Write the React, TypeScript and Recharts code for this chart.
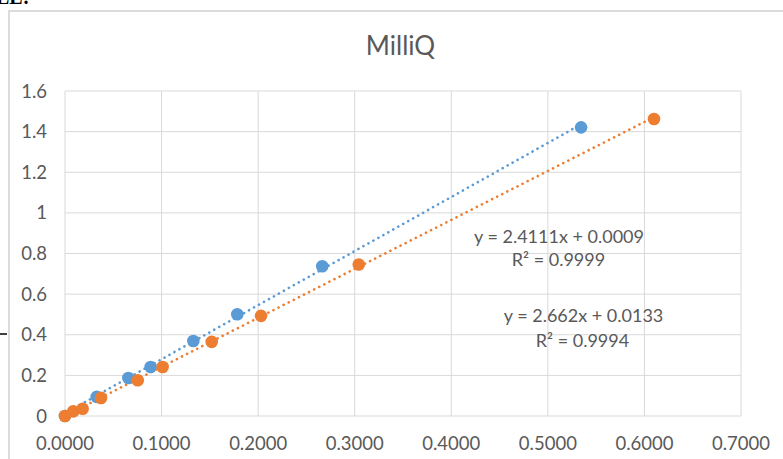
import React from "react";
import {
  ScatterChart,
  Scatter,
  XAxis,
  YAxis,
  CartesianGrid,
  ReferenceLine,
} from "recharts";

// MilliQ calibration points
const blueX = [0, 0.0328, 0.0656, 0.0887, 0.1329, 0.1784, 0.2664, 0.5344];
const blueY = [0, 0.094, 0.187, 0.241, 0.369, 0.501, 0.737, 1.421];
const orangeX = [0, 0.0086, 0.0183, 0.0373, 0.0753, 0.1011, 0.1519, 0.203, 0.3042, 0.6099];
const orangeY = [0, 0.023, 0.036, 0.089, 0.176, 0.241, 0.365, 0.493, 0.746, 1.462];

// trendline coefficients (as printed on the chart)
const blueFit = { slope: 2.662, intercept: 0.0133 };
const orangeFit = { slope: 2.4111, intercept: 0.0009 };

const xTicks = [0, 0.1, 0.2, 0.3, 0.4, 0.5, 0.6, 0.7];
const yTicks = [0, 0.2, 0.4, 0.6, 0.8, 1, 1.2, 1.4, 1.6];

const TITLE = "MilliQ";
const EQ_TOP = ["y = 2.4111x + 0.0009", "R² = 0.9999"];
const EQ_BOTTOM = ["y = 2.662x + 0.0133", "R² = 0.9994"];

const BLUE = "#5B9BD5";
const ORANGE = "#ED7D31";
const TEXT = "#595959";
const FONT = "Lato, 'Open Sans', sans-serif";
const TICK_SIZE = 18.5;

const toPoints = (xs: number[], ys: number[]) => xs.map((x, i) => ({ x, y: ys[i] }));

const blueData = toPoints(blueX, blueY);
const orangeData = toPoints(orangeX, orangeY);

const fitSegment = (xs: number[], fit: { slope: number; intercept: number }) => {
  const x0 = Math.min(...xs);
  const x1 = Math.max(...xs);
  return [
    { x: x0, y: fit.slope * x0 + fit.intercept },
    { x: x1, y: fit.slope * x1 + fit.intercept },
  ];
};

const dot = (color: string) => (props: any) =>
  <circle cx={props.cx} cy={props.cy} r={6.3} fill={color} />;

export default function App() {
  return (
    <div
      style={{
        position: "fixed",
        left: 0,
        top: 0,
        width: 783,
        height: 459,
        overflow: "hidden",
        background: "#fff",
        fontFamily: FONT,
      }}
    >
      {/* chart frame, cut off on the right and bottom */}
      <div
        style={{
          position: "absolute",
          left: 8,
          top: 10,
          width: 820,
          height: 520,
          border: "2px solid #dcdcdc",
        }}
      />
      <div style={{ position: "absolute", left: 0, top: 0 }}>
        <ScatterChart
          width={783}
          height={459}
          margin={{ top: 91, right: 42, bottom: 13, left: 5 }}
        >
          <CartesianGrid stroke="#d9d9d9" strokeWidth={1} />
          <XAxis
            type="number"
            dataKey="x"
            domain={[0, 0.7]}
            ticks={xTicks}
            tickFormatter={(v: number) => v.toFixed(4)}
            axisLine={false}
            tickLine={false}
            tickSize={0}
            tickMargin={21}
            height={30}
            tick={{ fill: TEXT, fontSize: TICK_SIZE, fontFamily: FONT }}
            interval={0}
          />
          <YAxis
            type="number"
            dataKey="y"
            domain={[0, 1.6]}
            ticks={yTicks}
            width={60}
            axisLine={false}
            tickLine={false}
            tickSize={0}
            tickMargin={18}
            tick={{ fill: TEXT, fontSize: TICK_SIZE, fontFamily: FONT }}
            interval={0}
          />
          <ReferenceLine
            segment={fitSegment(blueX, blueFit)}
            stroke={BLUE}
            strokeWidth={2.6}
            strokeDasharray="0.1 5.6"
            strokeLinecap="round"
          />
          <ReferenceLine
            segment={fitSegment(orangeX, orangeFit)}
            stroke={ORANGE}
            strokeWidth={2.6}
            strokeDasharray="0.1 5.6"
            strokeLinecap="round"
          />
          <Scatter data={blueData} shape={dot(BLUE)} isAnimationActive={false} />
          <Scatter data={orangeData} shape={dot(ORANGE)} isAnimationActive={false} />
        </ScatterChart>
      </div>
      <svg
        width={783}
        height={459}
        style={{ position: "absolute", left: 0, top: 0, pointerEvents: "none" }}
      >
        <text x={-4} y={4} fontFamily="'Liberation Serif', serif" fontWeight="bold" fontSize={20} fill="#000">
          LE:
        </text>
        <line x1={0} y1={334} x2={7} y2={334} stroke="#000" strokeWidth={1.5} />
        <text x={400.5} y={55} textAnchor="middle" fontSize={26} fill={TEXT} fontFamily={FONT}>
          {TITLE}
        </text>
        <text x={559} y={243} textAnchor="middle" fontSize={18} fill={TEXT} fontFamily={FONT}>
          {EQ_TOP[0]}
        </text>
        <text x={558.5} y={265.5} textAnchor="middle" fontSize={18} fill={TEXT} fontFamily={FONT}>
          {EQ_TOP[1]}
        </text>
        <text x={583.5} y={322} textAnchor="middle" fontSize={18} fill={TEXT} fontFamily={FONT}>
          {EQ_BOTTOM[0]}
        </text>
        <text x={582.5} y={346.5} textAnchor="middle" fontSize={18} fill={TEXT} fontFamily={FONT}>
          {EQ_BOTTOM[1]}
        </text>
      </svg>
    </div>
  );
}
